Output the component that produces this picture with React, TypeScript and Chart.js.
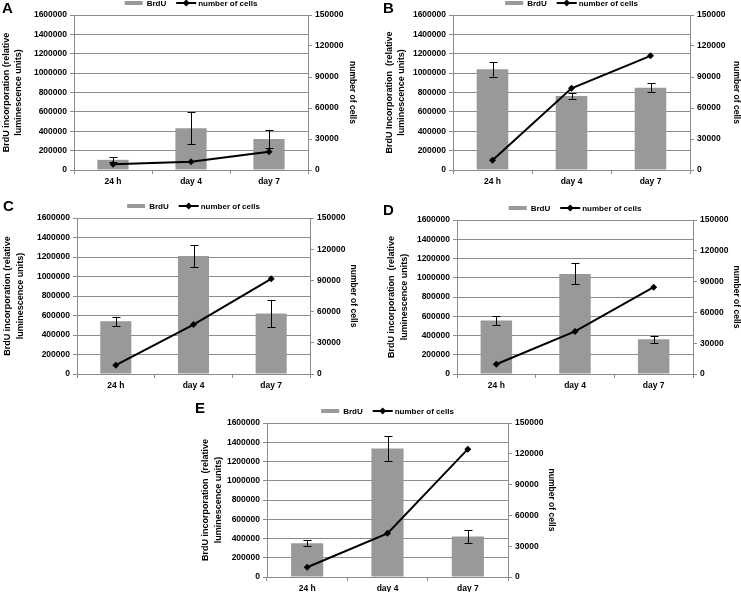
import React, { useEffect, useRef } from "react";
import { Chart, registerables } from "chart.js";

Chart.register(...registerables);

const categories = ["24 h", "day 4", "day 7"];

const brduA = [105000, 430000, 320000];
const errA = [25000, 165000, 95000];
const cellsA = [5500, 8000, 17700];

const brduB = [1040000, 765000, 850000];
const errB = [75000, 30000, 45000];
const cellsB = [9500, 79000, 110500];

const brduC = [540000, 1210000, 620000];
const errC = [48000, 113000, 138000];
const cellsC = [8500, 47500, 91500];

const brduD = [555000, 1040000, 360000];
const errD = [48000, 110000, 38000];
const cellsD = [9500, 41500, 84500];

const brduE = [350000, 1335000, 420000];
const errE = [33000, 130000, 68000];
const cellsE = [9500, 42500, 124500];

const leftMax = 1600000;
const leftStep = 200000;
const rightMax = 150000;
const rightStep = 30000;

const FONT = "'Liberation Sans', Arial, sans-serif";
const GRID = "#8c8c8c";
const BAR = "#999999";

type Layout = {
  label: string;
  leftTitle: string[];
  x0: number; y0: number; x1: number; y1: number;
  L: number; R: number; T: number; B: number;
  tl: number; tr: number;
  lx: number; lbase: number;
};

type PanelProps = {
  layout: Layout;
  brdu: number[];
  err: number[];
  cells: number[];
};

function Panel({ layout, brdu, err, cells }: PanelProps) {
  const ref = useRef<HTMLCanvasElement | null>(null);
  const { x0, y0, x1, y1, L, R, T, B, tl, tr } = layout;
  const W = x1 - x0;
  const H = y1 - y0;

  useEffect(() => {
    if (!ref.current) return;
    const leftLH = 9 * 1.4;
    const rightLH = 8.5 * 1.2;
    const padL = Math.max(0, tl - leftLH / 2 - x0);
    const padR = Math.max(0, x1 - (tr + rightLH / 2));

    const errorPlugin = {
      id: "errbars" + layout.label,
      afterDatasetDraw(chart: any, args: any) {
        if (args.meta.type !== "bar") return;
        const ctx = chart.ctx;
        const ys = chart.scales.y;
        ctx.save();
        ctx.strokeStyle = "#000";
        ctx.lineWidth = 1;
        args.meta.data.forEach((el: any, i: number) => {
          const v = brdu[i];
          const e = err[i];
          const x = Math.round(el.x) + 0.5;
          const yt = ys.getPixelForValue(v + e);
          const yb = ys.getPixelForValue(v - e);
          ctx.beginPath();
          ctx.moveTo(x, yt);
          ctx.lineTo(x, yb);
          ctx.moveTo(x - 4, Math.round(yt) + 0.5);
          ctx.lineTo(x + 4, Math.round(yt) + 0.5);
          ctx.moveTo(x - 4, Math.round(yb) + 0.5);
          ctx.lineTo(x + 4, Math.round(yb) + 0.5);
          ctx.stroke();
        });
        ctx.restore();
      },
    };

    const decorPlugin = {
      id: "decor" + layout.label,
      afterDraw(chart: any) {
        const ctx = chart.ctx;
        ctx.save();
        ctx.fillStyle = "#000";
        ctx.font = `bold 15px ${FONT}`;
        ctx.textAlign = "left";
        ctx.textBaseline = "alphabetic";
        ctx.fillText(layout.label, layout.lx - x0, layout.lbase - y0);
        ctx.font = `bold 8px ${FONT}`;
        const t1 = chart.data.datasets[1].label;
        const t2 = chart.data.datasets[0].label;
        const w1 = ctx.measureText(t1).width;
        const w2 = ctx.measureText(t2).width;
        const sw = 18, g1 = 4, g2 = 10, lw = 20, g3 = 2;
        const total = sw + g1 + w1 + g2 + lw + g3 + w2;
        const cx = (L + R) / 2 - x0;
        const cy = T - 12 - y0;
        let x = cx - total / 2;
        ctx.fillStyle = BAR;
        ctx.fillRect(x, cy - 2, sw, 4);
        x += sw + g1;
        ctx.fillStyle = "#000";
        ctx.textBaseline = "middle";
        ctx.fillText(t1, x, cy + 0.5);
        x += w1 + g2;
        ctx.strokeStyle = "#000";
        ctx.lineWidth = 2;
        ctx.beginPath();
        ctx.moveTo(x, cy);
        ctx.lineTo(x + lw, cy);
        ctx.stroke();
        const mx = x + lw / 2;
        ctx.beginPath();
        ctx.moveTo(mx, cy - 3.5);
        ctx.lineTo(mx + 3.5, cy);
        ctx.lineTo(mx, cy + 3.5);
        ctx.lineTo(mx - 3.5, cy);
        ctx.closePath();
        ctx.fill();
        x += lw + g3;
        ctx.fillText(t2, x, cy + 0.5);
        ctx.restore();
      },
    };

    const tickFont = { family: FONT, size: 8.5, weight: "bold" as const };

    const chart = new Chart(ref.current, {
      type: "bar",
      data: {
        labels: categories,
        datasets: [
          {
            type: "line" as const,
            label: "number of cells",
            data: cells,
            yAxisID: "y1",
            borderColor: "#000",
            backgroundColor: "#000",
            borderWidth: 2,
            pointStyle: "rectRot",
            pointRadius: 3.5,
            pointBackgroundColor: "#000",
            pointBorderColor: "#000",
            pointBorderWidth: 0,
            tension: 0,
            order: 1,
          },
          {
            type: "bar" as const,
            label: "BrdU",
            data: brdu,
            yAxisID: "y",
            backgroundColor: BAR,
            borderWidth: 0,
            barPercentage: 0.4,
            categoryPercentage: 1,
            order: 2,
          },
        ],
      } as any,
      options: {
        animation: false,
        responsive: false,
        maintainAspectRatio: false,
        events: [],
        layout: { padding: { left: padL, right: padR, top: T - y0, bottom: 0 } },
        plugins: { legend: { display: false }, tooltip: { enabled: false } },
        scales: {
          x: {
            type: "category",
            offset: true,
            grid: { display: true, drawOnChartArea: false, drawTicks: true, tickLength: 4, color: GRID, offset: true },
            border: { display: true, color: GRID },
            ticks: { font: tickFont, color: "#000", padding: 3, maxRotation: 0, autoSkip: false },
            afterFit: (s: any) => { s.height = y1 - B; },
          },
          y: {
            position: "left",
            min: 0,
            max: leftMax,
            ticks: { stepSize: leftStep, font: tickFont, color: "#000", padding: 3, callback: (v: any) => String(v) },
            grid: { color: GRID, tickLength: 4 },
            border: { display: true, color: GRID },
            title: {
              display: true,
              text: layout.leftTitle,
              color: "#000",
              padding: 0,
              font: { family: FONT, size: 9, weight: "bold", lineHeight: 1.4 },
            },
            afterFit: (s: any) => { s.width = L - x0 - padL; },
          },
          y1: {
            position: "right",
            min: 0,
            max: rightMax,
            ticks: { stepSize: rightStep, font: tickFont, color: "#000", padding: 3, callback: (v: any) => String(v) },
            grid: { drawOnChartArea: false, color: GRID, tickLength: 4 },
            border: { display: true, color: GRID },
            title: {
              display: true,
              text: "number of cells",
              color: "#000",
              padding: 0,
              font: { family: FONT, size: 8.5, weight: "bold", lineHeight: 1.2 },
            },
            afterFit: (s: any) => { s.width = x1 - padR - R; },
          },
        },
      } as any,
      plugins: [errorPlugin, decorPlugin],
    });
    return () => chart.destroy();
  }, []);

  return (
    <canvas
      ref={ref}
      width={W}
      height={H}
      style={{ position: "absolute", left: x0, top: y0, width: W, height: H, display: "block" }}
    />
  );
}

const layoutA: Layout = {
  label: "A", leftTitle: ["BrdU incorporation (relative", "luminescence units)"],
  x0: 0, y0: 0, x1: 357, y1: 190, L: 74, R: 308, T: 15, B: 170, tl: 6, tr: 352, lx: 2, lbase: 13,
};
const layoutB: Layout = {
  label: "B", leftTitle: ["BrdU Incorporation  (relative", "luminescence units)"],
  x0: 383, y0: 0, x1: 741, y1: 190, L: 453, R: 690, T: 15, B: 170, tl: 389, tr: 736, lx: 383, lbase: 13,
};
const layoutC: Layout = {
  label: "C", leftTitle: ["BrdU incorporation (relative", "luminescence units)"],
  x0: 0, y0: 192, x1: 358, y1: 392, L: 77, R: 310, T: 218, B: 374, tl: 7.5, tr: 353, lx: 3, lbase: 211,
};
const layoutD: Layout = {
  label: "D", leftTitle: ["BrdU incorporation  (relative", "luminescence units)"],
  x0: 383, y0: 192, x1: 741, y1: 392, L: 457, R: 693, T: 220, B: 374, tl: 392, tr: 736, lx: 383, lbase: 215,
};
const layoutE: Layout = {
  label: "E", leftTitle: ["BrdU incorporation  (relative", "luminescence units)"],
  x0: 190, y0: 392, x1: 560, y1: 592, L: 267, R: 508, T: 423, B: 577, tl: 206, tr: 551, lx: 195, lbase: 413,
};

export default function App() {
  return (
    <div
      style={{
        position: "absolute",
        left: 0,
        top: 0,
        width: 741,
        height: 592,
        overflow: "hidden",
        background: "#fff",
      }}
    >
      <Panel layout={layoutA} brdu={brduA} err={errA} cells={cellsA} />
      <Panel layout={layoutB} brdu={brduB} err={errB} cells={cellsB} />
      <Panel layout={layoutC} brdu={brduC} err={errC} cells={cellsC} />
      <Panel layout={layoutD} brdu={brduD} err={errD} cells={cellsD} />
      <Panel layout={layoutE} brdu={brduE} err={errE} cells={cellsE} />
    </div>
  );
}
